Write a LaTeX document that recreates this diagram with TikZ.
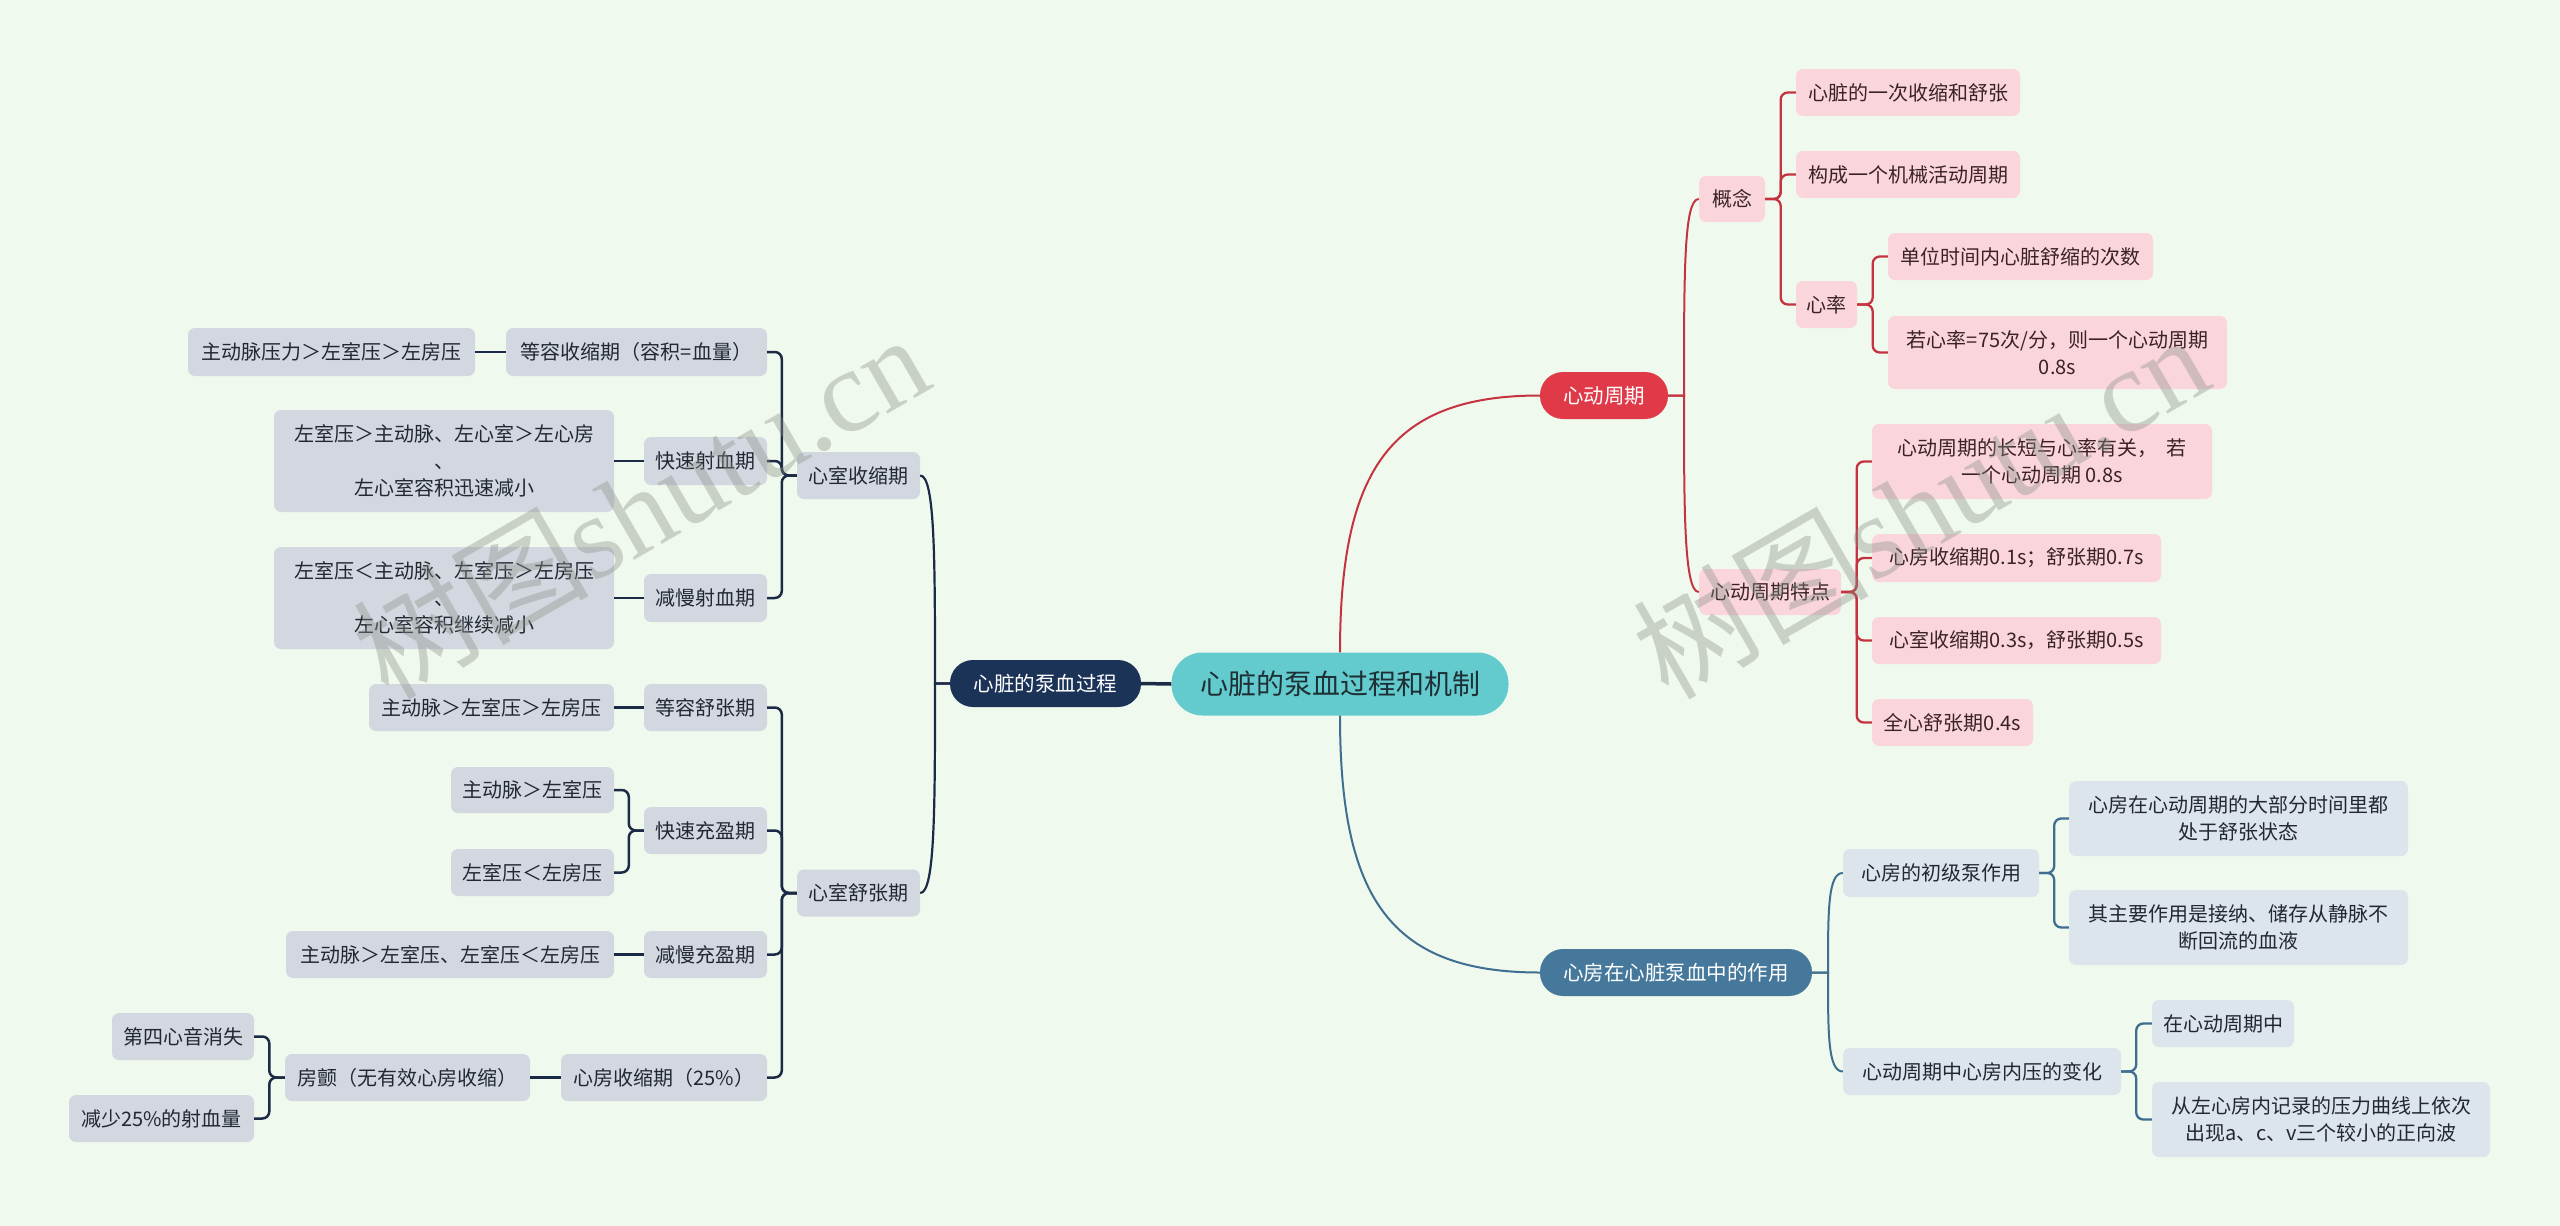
\documentclass[tikz,border=0pt]{standalone}
\usepackage{fontspec}
\setmainfont{Noto Sans CJK SC}
\newfontfamily\wmlatin{Liberation Serif}
\newfontfamily\wmcjk{Noto Sans CJK SC}
\definecolor{bgc}{HTML}{F0F9EE}
\definecolor{graybox}{HTML}{D3D8E0}
\definecolor{pinkbox}{HTML}{FAD6DC}
\definecolor{bluebox}{HTML}{DCE4EC}
\definecolor{navyfill}{HTML}{1C3358}
\definecolor{redfill}{HTML}{E03A49}
\definecolor{bluefill}{HTML}{46789C}
\definecolor{rootfill}{HTML}{63CACD}
\definecolor{navyline}{HTML}{1B2A45}
\definecolor{redline}{HTML}{C4333F}
\definecolor{blueline}{HTML}{3E6E90}
\definecolor{darktext}{HTML}{222831}
\definecolor{pinktext}{HTML}{3A2226}
\definecolor{roottext}{HTML}{1E3035}
\definecolor{wmgray}{HTML}{8A908A}
\tikzset{
  mmbox/.style={rounded corners=7pt, inner sep=0pt, align=center,
    font=\fontsize{20}{27}\selectfont, minimum height=47pt},
  gnode/.style={mmbox, fill=graybox, text=darktext},
  pnode/.style={mmbox, fill=pinkbox, text=pinktext},
  bnode/.style={mmbox, fill=bluebox, text=darktext},
  pill/.style={rounded corners=23pt, inner sep=0pt, align=center,
    font=\fontsize{20.5}{27}\selectfont, minimum height=47pt, text=white},
  navyel/.style={draw=navyline, line width=2.5pt, rounded corners=7pt},
  redel/.style={draw=redline, line width=2.3pt, rounded corners=7pt},
  blueel/.style={draw=blueline, line width=2.3pt, rounded corners=7pt},
  navycv/.style={draw=navyline, line width=2.2pt},
  redcv/.style={draw=redline, line width=2pt},
  bluecv/.style={draw=blueline, line width=2pt},
  wmark/.style={rotate=30, text=wmgray, opacity=0.38, inner sep=0pt}
}
\begin{document}
\begin{tikzpicture}[x=1pt,y=-1pt]
\useasboundingbox (0,0) rectangle (2560,1226);
\fill[bgc] (0,0) rectangle (2560,1226);

% root and main branches
\node[rounded corners=31pt, inner sep=0pt, fill=rootfill, text=roottext,
  minimum width=337pt, minimum height=63pt, font=\fontsize{28}{36}\selectfont]
  (root) at (1340,684) {心脏的泵血过程和机制};
\node[pill, fill=navyfill, minimum width=191pt] (A) at (1045.5,683.5) {心脏的泵血过程};
\node[pill, fill=redfill, minimum width=128pt] (R) at (1604,395.5) {心动周期};
\node[pill, fill=bluefill, minimum width=272pt] (S) at (1676,972.5) {心房在心脏泵血中的作用};

% left branch
\node[gnode, minimum width=123pt] (B1) at (858.5,475.5) {心室收缩期};
\node[gnode, minimum width=123pt] (B2) at (858.5,893) {心室舒张期};
\node[gnode, minimum width=261pt, minimum height=48pt] (C1) at (636.5,352) {等容收缩期（容积=血量）};
\node[gnode, minimum width=123pt, minimum height=48pt] (C2) at (705.5,461) {快速射血期};
\node[gnode, minimum width=123pt, minimum height=48pt] (C3) at (705.5,598) {减慢射血期};
\node[gnode, minimum width=287pt, minimum height=48pt] (D1) at (331.5,352) {主动脉压力＞左室压＞左房压};
\node[gnode, minimum width=340pt, minimum height=102pt] (D2) at (444,461) {左室压＞主动脉、左心室＞左心房\\、\\左心室容积迅速减小};
\node[gnode, minimum width=340pt, minimum height=102pt] (D3) at (444,598) {左室压＜主动脉、左室压＞左房压\\、\\左心室容积继续减小};
\node[gnode, minimum width=123pt] (C4) at (705.5,707.5) {等容舒张期};
\node[gnode, minimum width=123pt] (C5) at (705.5,830.5) {快速充盈期};
\node[gnode, minimum width=123pt] (C6) at (705.5,954.5) {减慢充盈期};
\node[gnode, minimum width=206pt] (C7) at (664,1077.5) {心房收缩期（25\%）};
\node[gnode, minimum width=245pt] (D4) at (491.5,707.5) {主动脉＞左室压＞左房压};
\node[gnode, minimum width=163pt, minimum height=46pt] (D5) at (532.5,790) {主动脉＞左室压};
\node[gnode, minimum width=163pt] (D6) at (532.5,872.5) {左室压＜左房压};
\node[gnode, minimum width=328pt] (D7) at (450,954.5) {主动脉＞左室压、左室压＜左房压};
\node[gnode, minimum width=245pt] (D8) at (407.5,1077.5) {房颤（无有效心房收缩）};
\node[gnode, minimum width=142pt] (E1) at (183,1036.5) {第四心音消失};
\node[gnode, minimum width=185pt] (E2) at (161.5,1118.5) {减少25\%的射血量};

% right: cardiac cycle
\node[pnode, minimum width=66pt, minimum height=46pt] (R1) at (1732,199) {概念};
\node[pnode, minimum width=142pt, minimum height=46pt] (R2) at (1770,592) {心动周期特点};
\node[pnode, minimum width=224pt] (R11) at (1908,92.5) {心脏的一次收缩和舒张};
\node[pnode, minimum width=224pt] (R12) at (1908,174.5) {构成一个机械活动周期};
\node[pnode, minimum width=61pt] (R13) at (1826.5,304.5) {心率};
\node[pnode, minimum width=265pt] (R131) at (2020.5,256.5) {单位时间内心脏舒缩的次数};
\node[pnode, minimum width=339pt, minimum height=73pt] (R132) at (2057.5,352.5) {若心率=75次/分，则一个心动周期\\0.8s};
\node[pnode, minimum width=340pt, minimum height=75pt] (R21) at (2042,461.5) {心动周期的长短与心率有关，\hspace{0.45em}若\\一个心动周期 0.8s};
\node[pnode, minimum width=289pt, minimum height=48pt] (R22) at (2016.5,558) {心房收缩期0.1s；舒张期0.7s};
\node[pnode, minimum width=289pt] (R23) at (2016.5,640.5) {心室收缩期0.3s，舒张期0.5s};
\node[pnode, minimum width=161pt] (R24) at (1952.5,722.5) {全心舒张期0.4s};

% right: atrium
\node[bnode, minimum width=196pt, minimum height=48pt] (S1) at (1941,873) {心房的初级泵作用};
\node[bnode, minimum width=278pt] (S2) at (1982,1071.5) {心动周期中心房内压的变化};
\node[bnode, minimum width=339pt, minimum height=75pt] (S11) at (2238.5,818.5) {心房在心动周期的大部分时间里都\\处于舒张状态};
\node[bnode, minimum width=339pt, minimum height=75pt] (S12) at (2238.5,927.5) {其主要作用是接纳、储存从静脉不\\断回流的血液};
\node[bnode, minimum width=142pt] (S21) at (2223,1023.5) {在心动周期中};
\node[bnode, minimum width=338pt, minimum height=75pt] (S22) at (2321,1119.5) {从左心房内记录的压力曲线上依次\\出现a、c、v三个较小的正向波};

% connectors: root
\draw[navyline, line width=3.5pt] (root.west) -- (A.east);
\draw[redcv] (root.north) .. controls (1340,470) and (1390,395.5) .. (R.west);
\draw[bluecv] (root.south) .. controls (1340,898) and (1390,972.5) .. (S.west);

% left connectors
\draw[navycv] (A.west) -- (935,683.5) .. controls (935,560) and (935,475.5) .. (B1.east);
\draw[navycv] (A.west) -- (935,683.5) .. controls (935,808) and (935,893) .. (B2.east);
\draw[navyel] (B1.west) -- ++(-15,0) |- (C1.east);
\draw[navyel] (B1.west) -- ++(-15,0) |- (C2.east);
\draw[navyel] (B1.west) -- ++(-15,0) |- (C3.east);
\draw[navyel] (C1.west) -- (D1.east);
\draw[navyel] (C2.west) -- (D2.east);
\draw[navyel] (C3.west) -- (D3.east);
\draw[navyel] (B2.west) -- ++(-15,0) |- (C4.east);
\draw[navyel] (B2.west) -- ++(-15,0) |- (C5.east);
\draw[navyel] (B2.west) -- ++(-15,0) |- (C6.east);
\draw[navyel] (B2.west) -- ++(-15,0) |- (C7.east);
\draw[navyel] (C4.west) -- (D4.east);
\draw[navyel] (C5.west) -- ++(-15,0) |- (D5.east);
\draw[navyel] (C5.west) -- ++(-15,0) |- (D6.east);
\draw[navyel] (C6.west) -- (D7.east);
\draw[navyel] (C7.west) -- (D8.east);
\draw[navyel] (D8.west) -- ++(-15.5,0) |- (E1.east);
\draw[navyel] (D8.west) -- ++(-15.5,0) |- (E2.east);

% right connectors (red)
\draw[redcv] (R.east) -- (1684,395.5) .. controls (1684,270) and (1684,199) .. (R1.west);
\draw[redcv] (R.east) -- (1684,395.5) .. controls (1684,510) and (1684,592) .. (R2.west);
\draw[redel] (R1.east) -- ++(15.5,0) |- (R11.west);
\draw[redel] (R1.east) -- ++(15.5,0) |- (R12.west);
\draw[redel] (R1.east) -- ++(15.5,0) |- (R13.west);
\draw[redel] (R13.east) -- ++(15.5,0) |- (R131.west);
\draw[redel] (R13.east) -- ++(15.5,0) |- (R132.west);
\draw[redel] (R2.east) -- ++(15.5,0) |- (R21.west);
\draw[redel] (R2.east) -- ++(15.5,0) |- (R22.west);
\draw[redel] (R2.east) -- ++(15.5,0) |- (R23.west);
\draw[redel] (R2.east) -- ++(15.5,0) |- (R24.west);

% right connectors (blue)
\draw[bluecv] (S.east) -- (1828,972.5) .. controls (1828,910) and (1828,873) .. (S1.west);
\draw[bluecv] (S.east) -- (1828,972.5) .. controls (1828,1035) and (1828,1071.5) .. (S2.west);
\draw[blueel] (S1.east) -- ++(15,0) |- (S11.west);
\draw[blueel] (S1.east) -- ++(15,0) |- (S12.west);
\draw[blueel] (S2.east) -- ++(15,0) |- (S21.west);
\draw[blueel] (S2.east) -- ++(15,0) |- (S22.west);

% watermarks
\node[wmark] (wm1) at (640,505) {\fontsize{118}{118}\selectfont\wmcjk 树图\wmlatin shutu.cn};
\node[wmark] (wm2) at (1920,505) {\fontsize{118}{118}\selectfont\wmcjk 树图\wmlatin shutu.cn};
\end{tikzpicture}
\end{document}
